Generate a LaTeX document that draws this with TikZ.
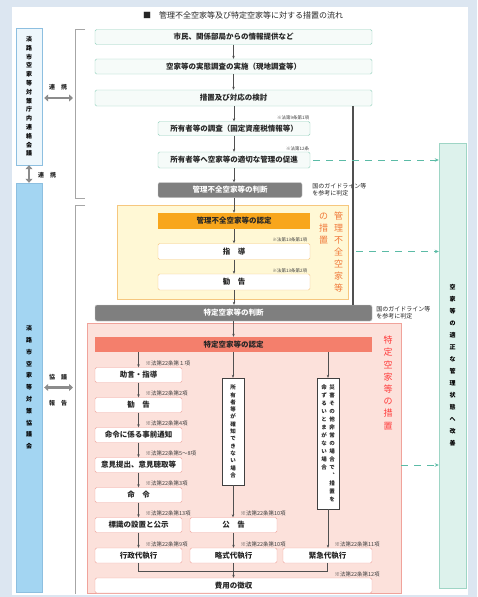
\documentclass[tikz,border=0pt]{standalone}
\usepackage{fontspec}
\setmainfont{Noto Sans CJK JP}
\XeTeXlinebreaklocale "ja"
\XeTeXlinebreakskip=0pt plus 1pt
\usetikzlibrary{arrows.meta, positioning}
\definecolor{fondo}{HTML}{DCE6F1}
\definecolor{celeste}{HTML}{EEF7FC}
\definecolor{azulborde}{HTML}{8DBFE0}
\definecolor{azulfondo}{HTML}{A3D5F2}
\definecolor{verdeborde}{HTML}{93D1BD}
\definecolor{verdefondo}{HTML}{F6FBF9}
\definecolor{grisfondo}{HTML}{7F7F7F}
\definecolor{grisborde}{HTML}{C8C8C8}
\definecolor{amarillofondo}{HTML}{FFF8D5}
\definecolor{naranjaborde}{HTML}{F6C77E}
\definecolor{naranja}{HTML}{F8A61C}
\definecolor{naranjatexto}{HTML}{F07A3A}
\definecolor{rosafondo}{HTML}{FCE1DB}
\definecolor{rosaborde}{HTML}{F0A39B}
\definecolor{salmon}{HTML}{F47F6C}
\definecolor{rojotexto}{HTML}{FF3B3B}
\definecolor{kaizenfondo}{HTML}{DDF2EC}
\definecolor{kaizenborde}{HTML}{9ED5C5}
\definecolor{verdeflecha}{HTML}{5BBBA6}
\definecolor{lineagris}{HTML}{505050}
\tikzset{
  every picture/.style={>=Stealth},
  tate/.style={text width=#1, align=center, inner sep=0pt},
  etapa/.style={draw=verdeborde, fill=verdefondo, rounded corners=1.5pt, minimum height=15pt,
                inner sep=1pt, text=black!85, font=\fontsize{7.5}{8}\selectfont\bfseries},
  juicio/.style={draw=grisborde, fill=grisfondo, text=white, rounded corners=2pt, minimum height=15pt,
                inner sep=1pt, font=\fontsize{7.5}{8}\selectfont\bfseries},
  medidak/.style={draw=naranjaborde, fill=white, rounded corners=1.5pt, minimum width=152pt,
                minimum height=16pt, inner sep=1pt, text=black!85, font=\fontsize{7.5}{8}\selectfont\bfseries},
  medidat/.style={draw=rosaborde, fill=white, rounded corners=1.5pt, minimum width=87pt,
                minimum height=15pt, inner sep=1pt, text=black!85, font=\fontsize{7.5}{8}\selectfont\bfseries},
  caso/.style={draw=black!75, fill=white, minimum width=22pt, inner sep=0pt, text=black!85},
  nota/.style={font=\fontsize{4.5}{5}\selectfont, inner sep=0.8pt, text=black!75},
  notar/.style={font=\fontsize{5.5}{6}\selectfont, inner sep=0.8pt, text=black!75},
  guia/.style={font=\fontsize{6}{7}\selectfont, align=left, inner sep=0pt, text=black!85},
  etiqueta/.style={font=\fontsize{6}{7}\selectfont\bfseries, inner sep=0pt, text=black!85},
  flecha/.style={-{Stealth[length=3pt,width=2.5pt]}, line width=0.6pt, lineagris},
  linea/.style={line width=0.6pt, lineagris},
  flechad/.style={-{Stealth[length=4pt,width=3.5pt]}, dash pattern=on 7pt off 6pt, line width=1pt, verdeflecha},
  enlace/.style={{Triangle[length=4pt,width=7pt]}-{Triangle[length=4pt,width=7pt]}, line width=2.5pt, black!45},
  corchete/.style={line width=0.6pt, black!35},
}
\begin{document}
\begin{tikzpicture}[x=1pt, y=-1pt]
  \useasboundingbox (0,0) rectangle (477,597);
  \fill[fondo] (0,0) rectangle (477,597);
  \fill[white] (12,7) rectangle (468,595);
  \node[font=\fontsize{8}{9}\selectfont, text=black!85] (titulo) at (243,15) {■　管理不全空家等及び特定空家等に対する措置の流れ};

  % left column
  \node[tate=8pt, draw=azulborde, fill=celeste, minimum width=26pt, minimum height=137pt,
        font=\fontsize{6}{8.8}\selectfont\bfseries] (renraku) at (29,96.5) {淡路市空家等対策庁内連絡会議};
  \node[tate=8pt, draw=azulborde, fill=azulfondo, minimum width=26pt, minimum height=409pt,
        font=\fontsize{6}{11.8}\selectfont\bfseries] (kyogikai) at (29,387.5) {淡路市空家等対策協議会};
  \coordinate (c1a) at (75,29);
  \coordinate (c1b) at (75,198);
  \coordinate (c2a) at (75,205);
  \coordinate (c2b) at (75,594);
  \draw[corchete] ([xshift=10pt]c1a) -- (c1a) -- (c1b) -- ([xshift=10pt]c1b);
  \draw[corchete] ([xshift=10pt]c2a) -- (c2a) -- (c2b);

  % regions
  \node[draw=naranjaborde, fill=amarillofondo, minimum width=231pt, minimum height=94pt] (zonak) at (232.5,252) {};
  \node[draw=rosaborde, fill=rosafondo, minimum width=314pt, minimum height=270pt] (zonat) at (244,458) {};

  % survey steps
  \node[etapa, minimum width=277pt] (joho) at (233.5,37) {市民、関係部局からの情報提供など};
  \node[etapa, minimum width=277pt] (chosa) at (233.5,66.5) {空家等の実態調査の実施（現地調査等）};
  \node[etapa, minimum width=277pt, minimum height=16pt] (kento) at (233.5,98) {措置及び対応の検討};
  \node[etapa, minimum width=152pt, minimum height=14pt] (shoyu) at (234,128.5) {所有者等の調査（固定資産税情報等）};
  \node[etapa, minimum width=152pt, minimum height=16pt] (sokushin) at (234,160) {所有者等へ空家等の適切な管理の促進};
  \node[nota, anchor=south east] (n9) at (shoyu.north east) {※法第9条第1項};
  \node[nota, anchor=south east] (n12) at (sokushin.north east) {※法第12条};
  \node[juicio, minimum width=144pt] (handan1) at (230,190) {管理不全空家等の判断};
  \node[guia, anchor=west] (guia1) at ([xshift=10pt]handan1.east) {国のガイドライン等\\を参考に判定};

  % kanri fuzen
  \node[fill=naranja, minimum width=152pt, minimum height=16pt, inner sep=1pt, text=black!85,
        font=\fontsize{7.5}{8}\selectfont\bfseries] (nintei1) at (234,221) {管理不全空家等の認定};
  \node[medidak] (shido) at (234,251.5) {指　導};
  \node[medidak] (kankoku1) at (234,282) {勧　告};
  \node[nota, anchor=south east] (n13a) at ([xshift=-2pt]shido.north east) {※法第13条第1項};
  \node[nota, anchor=south east] (n13b) at ([xshift=-2pt]kankoku1.north east) {※法第13条第2項};
  \node[anchor=north, inner sep=0pt, text=naranjatexto, font=\fontsize{9}{12}\selectfont] (sokanri) at (331,212)
    {\parbox[t]{12pt}{\centering の措置}\hspace{3pt}\parbox[t]{12pt}{\centering 管理不全空家等}};

  % tokutei
  \node[juicio, minimum width=277pt, minimum height=16pt] (handan2) at (233.5,313) {特定空家等の判断};
  \node[guia, anchor=west] (guia2) at ([xshift=4pt]handan2.east) {国のガイドライン等\\を参考に判定};
  \node[fill=salmon, minimum width=277pt, minimum height=15pt, inner sep=1pt, text=black!85,
        font=\fontsize{7.5}{8}\selectfont\bfseries] (nintei2) at (233.5,344.5) {特定空家等の認定};
  \node[tate=12pt, anchor=north, text=rojotexto, font=\fontsize{9}{12.2}\selectfont] (sotoku) at (388,336) {特定空家等の措置};
  \node[medidat] (jogen) at (138.5,375) {助言・指導};
  \node[medidat] (kankoku2) at (138.5,405) {勧　告};
  \node[medidat] (tsuchi) at (138.5,435) {命令に係る事前通知};
  \node[medidat] (iken) at (138.5,465) {意見提出、意見聴取等};
  \node[medidat] (meirei) at (138.5,495) {命　令};
  \node[medidat] (hyoshiki) at (138.5,525) {標識の設置と公示};
  \node[medidat] (gyosei) at (138.5,555.5) {行政代執行};
  \node[medidat] (kokoku) at (233.5,525) {公　告};
  \node[medidat] (ryakushiki) at (233.5,555.5) {略式代執行};
  \node[medidat, minimum width=89pt] (kinkyu) at (327.5,555.5) {緊急代執行};
  \node[medidat, minimum width=277pt] (hiyo) at (233.5,585.5) {費用の徴収};
  \node[caso, tate=8pt, minimum height=107pt, font=\fontsize{5.5}{7.3}\selectfont\bfseries] (fumei) at (233,431.5)
    {所有者等が確知できない場合};
  \node[caso, minimum height=131pt, font=\fontsize{5.5}{8}\selectfont\bfseries\addfontfeatures{RawFeature=+vert}] (saigai) at (328,443.5)
    {\parbox[t]{7pt}{\centering 命ずるいとまがない場合}\hspace{1pt}\parbox[t]{7pt}{\centering 災害その他非常の場合で\\、措置を}};
  \foreach \n/\t in {jogen/１, kankoku2/2, tsuchi/4, iken/5～8, meirei/3, hyoshiki/13, gyosei/9, kokoku/10, ryakushiki/10, kinkyu/11}
    \node[notar, anchor=south west] (nota-\n) at ([xshift=6pt]\n.north) {※法第22条第\t 項};
  \node[notar, anchor=south west] (nota-hiyo) at ([xshift=6pt]hiyo.north -| kinkyu) {※法第22条第12項};

  % goal
  \node[tate=8pt, draw=kaizenborde, fill=kaizenfondo, minimum width=27pt, minimum height=445pt,
        font=\fontsize{6}{12}\selectfont\bfseries] (kaizen) at (452.5,365.5) {空家等の適正な管理状態へ改善};

  % links with committees
  \draw[enlace] ([xshift=2pt]renraku.east |- kento) -- ([xshift=-2pt]c1a |- kento);
  \draw[enlace] ([xshift=2pt]kyogikai.east) -- ([xshift=-2pt]c2a |- kyogikai.east);
  \draw[enlace] (renraku.south) -- (kyogikai.north);
  \node[etiqueta] (renkei1) at (58,87) {連　携};
  \node[etiqueta] (renkei2) at (47,175) {連　携};
  \node[etiqueta] (kyogi) at (58,377) {協　議};
  \node[etiqueta] (hokoku) at (58,403) {報　告};

  % flow
  \foreach \a/\b in {joho/chosa, chosa/kento, shoyu/sokushin, nintei1/shido, shido/kankoku1}
    \draw[flecha] (\a) -- (\b);
  \draw[flecha] (kento.south -| shoyu) -- (shoyu.north);
  \draw[flecha] (sokushin.south) -- (sokushin.south |- handan1.north);
  \draw[flecha] (handan1.south -| nintei1) -- (nintei1.north);
  \draw[flecha] (kankoku1.south) -- (kankoku1.south |- handan2.north);
  \draw[flecha] (handan2.south -| nintei2) -- (nintei2.north);
  \coordinate (eje) at (353,0);
  \draw[line width=1.2pt, lineagris] (kento.south -| eje) -- (handan2.north -| eje);
  \draw[flecha] (nintei2.south -| jogen) -- (jogen.north);
  \foreach \a/\b in {jogen/kankoku2, kankoku2/tsuchi, tsuchi/iken, iken/meirei, meirei/hyoshiki, hyoshiki/gyosei, kokoku/ryakushiki}
    \draw[flecha] (\a) -- (\b);
  \draw[flecha] (nintei2.south -| fumei) -- (fumei.north);
  \draw[flecha] (nintei2.south -| saigai) -- (saigai.north);
  \draw[flecha] (fumei.south) -- (fumei.south |- kokoku.north);
  \draw[flecha] (saigai.south) -- (saigai.south |- kinkyu.north);
  \coordinate (junta) at (233.5,571);
  \draw[linea] (gyosei.south) -- (gyosei.south |- junta) -- (kinkyu.south |- junta) -- (kinkyu.south);
  \draw[linea] (ryakushiki.south) -- (junta);
  \draw[flecha] (junta) -- (hiyo.north);

  % toward improvement
  \draw[flechad] ([xshift=3pt]sokushin.east) -- (sokushin -| kaizen.west);
  \draw[flechad] ([xshift=3pt]eje |- shido) -- (shido -| kaizen.west);
  \draw[flechad] (zonat.east |- iken) -- (iken -| kaizen.west);
\end{tikzpicture}
\end{document}
